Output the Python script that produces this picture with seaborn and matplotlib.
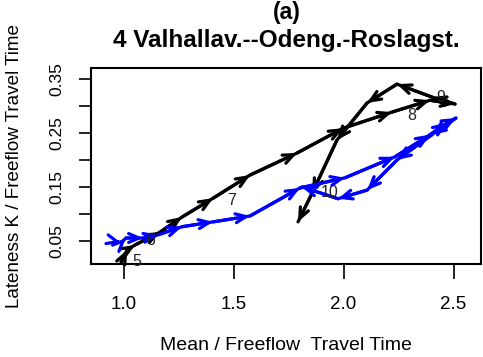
import matplotlib
matplotlib.use("Agg")
import matplotlib.pyplot as plt
import seaborn as sns
import numpy as np
import pandas as pd

# ---- data ----
black_x = [0.989, 1.016, 1.052, 1.166, 1.266, 1.407, 1.575, 1.789, 1.998, 2.220,
           2.393, 2.507, 2.402, 2.243, 2.107, 1.970, 1.858, 1.793]
black_y = [0.010, 0.033, 0.042, 0.066, 0.094, 0.129, 0.172, 0.213, 0.259, 0.289,
           0.311, 0.304, 0.317, 0.341, 0.306, 0.237, 0.139, 0.085]

blue_x = [0.970, 0.989, 1.011, 1.089, 1.157, 1.266, 1.407, 1.575, 1.802, 2.007,
          2.234, 2.393, 2.470, 2.511, 2.402, 2.243, 2.107, 1.975, 1.811]
blue_y = [0.048, 0.046, 0.055, 0.055, 0.061, 0.076, 0.085, 0.096, 0.148, 0.167,
          0.206, 0.247, 0.269, 0.278, 0.247, 0.200, 0.144, 0.128, 0.150]

hour_labels = ["5", "6", "7", "8", "9", "10"]
hour_x = [1.062, 1.125, 1.490, 2.310, 2.440, 1.935]
hour_y = [0.012, 0.050, 0.125, 0.283, 0.316, 0.140]

x_ticks = [1.0, 1.5, 2.0, 2.5]
y_ticks = [0.05, 0.10, 0.15, 0.20, 0.25, 0.30, 0.35]
y_ticklabels = ["0.05", "", "0.15", "", "0.25", "", "0.35"]

title_top = "(a)"
title_main = "4 Valhallav.--Odeng.-Roslagst."
xlabel_text = "Mean / Freeflow  Travel Time"
ylabel_text = "Lateness K / Freeflow Travel Time"

sns.set_style("white")
plt.rcParams['font.family'] = ['Liberation Sans', 'DejaVu Sans']
plt.rcParams['text.color'] = 'black'
plt.rcParams['axes.labelcolor'] = 'black'
plt.rcParams['xtick.color'] = 'black'
plt.rcParams['ytick.color'] = 'black'

fig = plt.figure(figsize=(4.83, 3.57), dpi=100)
ax = fig.add_axes([91/483, 1-264/357, (481-91)/483, (264-68)/357])

def draw_series(xs, ys, color):
    df = pd.DataFrame({"x": xs, "y": ys})
    sns.lineplot(data=df, x="x", y="y", sort=False, estimator=None,
                 color=color, lw=2.3, ax=ax)
    for i in range(len(xs) - 1):
        ax.annotate("", xy=(xs[i+1], ys[i+1]), xytext=(xs[i], ys[i]),
                    arrowprops=dict(arrowstyle="->,head_length=0.75,head_width=0.32",
                                    color=color, lw=2.3, shrinkA=0, shrinkB=0))

draw_series(black_x, black_y, "black")
draw_series(blue_x, blue_y, "#0000FF")

for t, x, y in zip(hour_labels, hour_x, hour_y):
    ax.text(x, y, t, fontsize=11.5, ha="center", va="center", color="#222222")

ax.set_xlim(0.852, 2.625)
ax.set_ylim(0.0067, 0.371)
ax.set_xticks(x_ticks)
ax.set_xticklabels([f"{v:.1f}" for v in x_ticks], fontsize=13.5)
ax.set_yticks(y_ticks)
ax.set_yticklabels(y_ticklabels, fontsize=12.5, rotation=90, va="center")
ax.tick_params(axis="x", direction="out", length=11, width=1.2, pad=12, bottom=True)
ax.tick_params(axis="y", direction="out", length=9, width=1.2, pad=10, left=True)
for s in ax.spines.values():
    s.set_visible(True)
    s.set_color("black")
    s.set_linewidth(1.5)

ax.set_xlabel(xlabel_text, fontsize=14)
ax.set_ylabel(ylabel_text, fontsize=13.6)
ax.xaxis.set_label_coords(0.5, -(345 - 264) / 196, transform=ax.transAxes)
ax.yaxis.set_label_coords(-(91 - 14) / 390, 0.5, transform=ax.transAxes)
ax.xaxis.label.set_va("center")
ax.yaxis.label.set_va("center")

fig.text(287/483, 1-13/357, title_top, fontsize=16.5, fontweight="bold",
         ha="center", va="center")
fig.text(286/483, 1-40/357, title_main, fontsize=17.5, fontweight="bold",
         ha="center", va="center")

fig.savefig("out.png", dpi=100)
